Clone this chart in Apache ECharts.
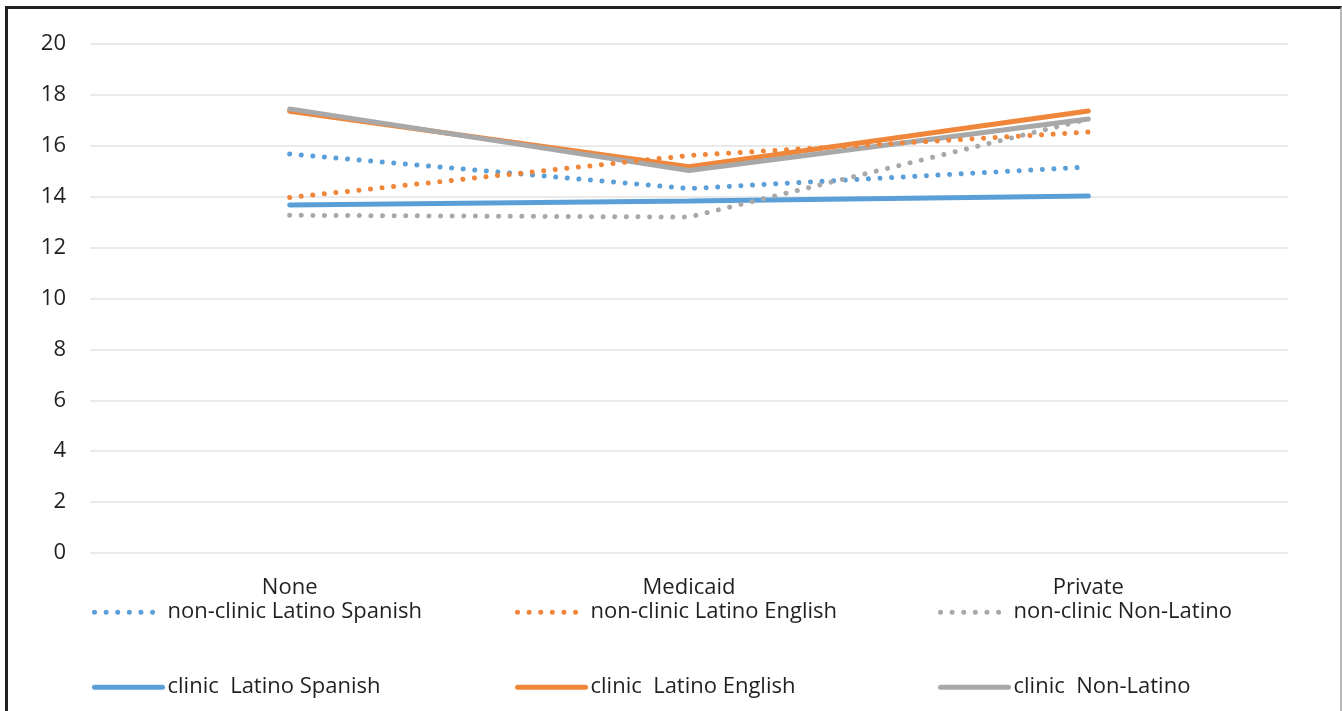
<!DOCTYPE html>
<html>
<head>
<meta charset="utf-8">
<script src="https://cdn.jsdelivr.net/npm/echarts@6/dist/echarts.min.js"></script>
<style>
  html, body { margin: 0; padding: 0; background: #fff; }
  #chart { position: absolute; left: 0; top: 0; width: 1342px; height: 711px; }
  .frame { position: absolute; left: 5px; top: 6px; width: 1332px; height: 720px;
           border-top: 3px solid #231f20; border-left: 3px solid #231f20;
           border-right: 2px solid #b8b8b8; pointer-events: none; }
</style>
</head>
<body>
<div id="chart"></div>
<div class="frame"></div>
<script>
// Insurance type categories
const categories = ['None', 'Medicaid', 'Private'];

// Scores by group
const nonClinicLatinoSpanish = [15.68, 14.32, 15.17];
const nonClinicLatinoEnglish = [13.97, 15.62, 16.54];
const nonClinicNonLatino = [13.27, 13.2, 17.05];
const clinicLatinoSpanish = [13.67, 13.83, 14.03];
const clinicLatinoEnglish = [17.36, 15.18, 17.37];
const clinicNonLatino = [17.45, 15.03, 17.05];

const yTicks = { min: 0, max: 20, interval: 2 };

const BLUE = '#5b9fd9', ORANGE = '#f0863a', GRAY = '#a8a8a8';
const FONT = '"Open Sans", "Liberation Sans", sans-serif';

const dotted = (color) => ({ color: color, width: 5, type: [0.01, 11.6], cap: 'round' });
const solid = (color) => ({ color: color, width: 5, cap: 'round' });

const seriesDefs = [
  { name: 'non-clinic Latino Spanish', data: nonClinicLatinoSpanish, line: dotted(BLUE), z: 3 },
  { name: 'non-clinic Latino English', data: nonClinicLatinoEnglish, line: dotted(ORANGE), z: 3 },
  { name: 'non-clinic Non-Latino', data: nonClinicNonLatino, line: dotted(GRAY), z: 3 },
  { name: 'clinic  Latino Spanish', data: clinicLatinoSpanish, line: solid(BLUE), z: 2 },
  { name: 'clinic  Latino English', data: clinicLatinoEnglish, line: solid(ORANGE), z: 2 },
  { name: 'clinic  Non-Latino', data: clinicNonLatino, line: solid(GRAY), z: 2 }
];

// One legend block per series, laid out as a 3 x 2 table
const legendLeft = [92, 515, 938];
const legendTop = [601, 676];
const legends = seriesDefs.map((s, i) => ({
  data: [s.name],
  left: legendLeft[i % 3],
  top: legendTop[Math.floor(i / 3)],
  padding: 0,
  itemWidth: 68,
  itemHeight: 28,
  itemGap: 0,
  textStyle: { fontFamily: FONT, fontSize: 22, color: '#231f20', padding: [0, 0, 0, 0] },
  lineStyle: s.line,
  itemStyle: { opacity: 0 },
  selectedMode: false
}));

const chart = echarts.init(document.getElementById('chart'), null, { renderer: 'canvas' });
chart.setOption({
  animation: false,
  backgroundColor: '#fff',
  grid: { left: 90, right: 54, top: 44, bottom: 158, containLabel: false },
  legend: legends,
  xAxis: {
    type: 'category',
    data: categories,
    boundaryGap: true,
    axisLine: { show: false },
    axisTick: { show: false },
    axisLabel: { margin: 24, fontFamily: FONT, fontSize: 22, color: '#231f20' }
  },
  yAxis: {
    type: 'value',
    min: yTicks.min,
    max: yTicks.max,
    interval: yTicks.interval,
    axisLine: { show: false },
    axisTick: { show: false },
    axisLabel: { margin: 24, fontFamily: FONT, fontSize: 22, color: '#231f20' },
    splitLine: { lineStyle: { color: '#e3e3e3', width: 1.5 } }
  },
  series: seriesDefs.map((s) => ({
    name: s.name,
    type: 'line',
    data: s.data,
    symbol: 'none',
    z: s.z,
    lineStyle: s.line,
    itemStyle: { color: s.line.color }
  }))
});
</script>
</body>
</html>
